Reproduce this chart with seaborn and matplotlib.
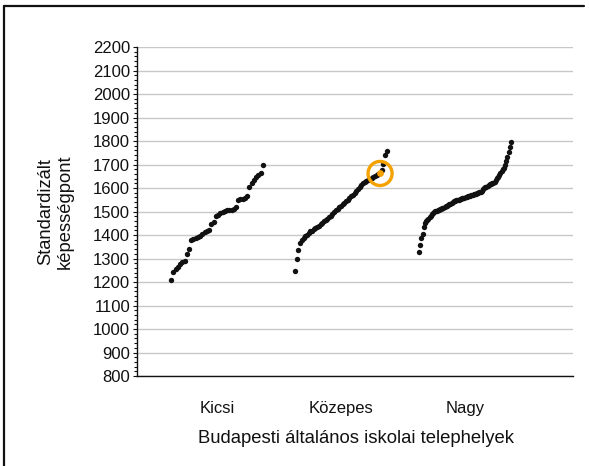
import numpy as np
import pandas as pd
import matplotlib.pyplot as plt
import seaborn as sns
from matplotlib.lines import Line2D
from matplotlib.ticker import MultipleLocator

# category names (x axis)
categories = ["Kicsi", "Közepes", "Nagy"]

# standardized ability scores, in rank order
kicsi = [1210, 1244, 1254, 1264, 1276, 1286, 1290, 1319, 1339, 1379,
         1383, 1386, 1390, 1394, 1404, 1414, 1419, 1421, 1447, 1457,
         1479, 1486, 1493, 1500, 1504, 1507, 1506, 1507, 1511, 1519,
         1550, 1553, 1554, 1557, 1567, 1604, 1623, 1636, 1647, 1657,
         1664, 1696]

kozepes = [1246, 1296, 1336, 1367, 1379, 1389, 1396, 1402, 1409, 1415,
           1419, 1425, 1429, 1433, 1439, 1446, 1453, 1460, 1465, 1470,
           1476, 1482, 1489, 1496, 1505, 1512, 1519, 1525, 1531, 1536,
           1544, 1549, 1556, 1564, 1571, 1578, 1588, 1597, 1605, 1614,
           1622, 1627, 1631, 1635, 1640, 1642, 1647, 1651, 1655, 1658,
           1662, 1678, 1704, 1740, 1758]

nagy = [1329, 1357, 1387, 1405, 1436, 1452, 1459, 1465, 1470, 1475,
        1481, 1488, 1492, 1496, 1501, 1503, 1505, 1508, 1510, 1512,
        1515, 1517, 1520, 1523, 1525, 1528, 1531, 1534, 1537, 1540,
        1543, 1545, 1547, 1549, 1551, 1553, 1554, 1556, 1558, 1559,
        1561, 1563, 1564, 1566, 1568, 1570, 1571, 1573, 1575, 1576,
        1578, 1580, 1582, 1585, 1589, 1594, 1599, 1603, 1606, 1609,
        1612, 1615, 1617, 1620, 1623, 1626, 1634, 1641, 1649, 1656,
        1664, 1672, 1679, 1687, 1700, 1715, 1730, 1753, 1773, 1794]

# highlighted school: index within the Közepes group
highlight_group = "Közepes"
highlight_index = 50

y_ticks = list(range(800, 2201, 100))


def main():
    sns.set_theme(style="white")
    plt.rcParams["font.family"] = ["Liberation Sans", "DejaVu Sans"]

    # build a long table; each group is spread over its slot by rank
    rows = []
    half_width = 0.37
    for i, (name, values) in enumerate(zip(categories, [kicsi, kozepes, nagy])):
        offsets = np.linspace(-half_width, half_width, len(values))
        for j, v in enumerate(values):
            rows.append({"group": name, "pos": i + 1 + offsets[j], "score": v, "rank": j})
    df = pd.DataFrame(rows)

    fig = plt.figure(figsize=(5.89, 4.66), dpi=100)
    ax = fig.add_axes([0.2326, 0.1931, 0.7402, 0.7060])

    sns.scatterplot(data=df, x="pos", y="score", color="#111111", s=15,
                    linewidth=0, ax=ax, zorder=3)

    hl = df[(df["group"] == highlight_group) & (df["rank"] == highlight_index)]
    ax.scatter(hl["pos"], hl["score"], s=15, color="#F5A200", zorder=4)
    ax.scatter(hl["pos"], hl["score"], s=300, facecolors="none",
               edgecolors="#F5A200", linewidths=2.4, zorder=5)

    ax.set_xlim(0.355, 3.871)
    ax.set_ylim(800, 2200)
    ax.set_yticks(y_ticks)
    ax.yaxis.set_minor_locator(MultipleLocator(20))
    ax.set_xticks([1, 2, 3])
    ax.set_xticklabels(categories)

    ax.grid(axis="y", which="major", color="#c8c8c8", linewidth=1)
    ax.set_axisbelow(True)
    for side in ["top", "right"]:
        ax.spines[side].set_visible(False)
    for side in ["left", "bottom"]:
        ax.spines[side].set_color("#111111")
        ax.spines[side].set_linewidth(1)

    ax.tick_params(axis="y", which="major", left=True, length=3, width=0.8,
                   color="#111111", pad=2, labelsize=12, labelcolor="#111111")
    ax.tick_params(axis="y", which="minor", left=True, length=2, width=0.8,
                   color="#111111")
    ax.tick_params(axis="x", length=0, pad=18, labelsize=12, labelcolor="#111111")

    ax.set_xlabel("Budapesti általános iskolai telephelyek", fontsize=13.3, color="#111111")
    ax.xaxis.set_label_coords(0.502, -0.165)
    ax.set_ylabel("Standardizált\nképességpont", fontsize=13.2, color="#111111")
    ax.yaxis.set_label_coords(-0.144, 0.5)

    # frame left over from the cropped slide
    fig.add_artist(Line2D([0.0068, 0.992], [0.987, 0.987], transform=fig.transFigure,
                          color="#111111", linewidth=1.6))
    fig.add_artist(Line2D([0.0068, 0.0068], [0.0, 0.987], transform=fig.transFigure,
                          color="#111111", linewidth=1.6))

    fig.savefig("out.png", dpi=100)


if __name__ == "__main__":
    main()
